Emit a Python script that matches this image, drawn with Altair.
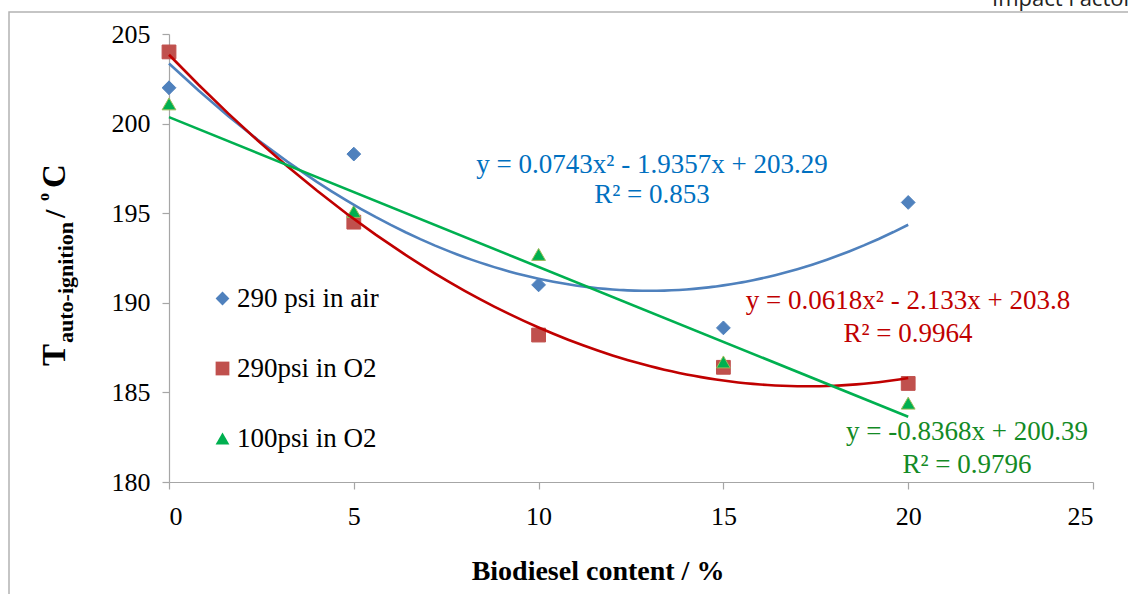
import altair as alt
import pandas as pd

# ---- data ----
content = [0, 5, 10, 15, 20]
air_290 = [202.0, 198.3, 191.0, 188.6, 195.6]
o2_290 = [204.0, 194.5, 188.2, 186.4, 185.5]
o2_100 = [201.1, 195.1, 192.7, 186.7, 184.4]
series_names = ["290 psi in air", "290psi in O2", "100psi in O2"]
x_ticks = [0, 5, 10, 15, 20, 25]
y_ticks = [180, 185, 190, 195, 200, 205]

eq_air = ["y = 0.0743x² - 1.9357x + 203.29", "R² = 0.853"]
eq_o2_290 = ["y = 0.0618x² - 2.133x + 203.8", "R² = 0.9964"]
eq_o2_100 = ["y = -0.8368x + 200.39", "R² = 0.9796"]

rows = []
for name, vals in zip(series_names, [air_290, o2_290, o2_100]):
    for xv, yv in zip(content, vals):
        rows.append({"x": xv, "y": yv, "series": name})
df = pd.DataFrame(rows)

SERIF = "Liberation Serif"
xs = alt.Scale(domain=[0, 25], nice=False)
ys = alt.Scale(domain=[180, 205], nice=False, zero=False)

X = alt.X("x:Q", scale=xs, axis=alt.Axis(values=x_ticks, title=None,
                                         labelFont=SERIF, labelFontSize=26))
Y = alt.Y("y:Q", scale=ys, axis=alt.Axis(values=y_ticks, title=None,
                                         labelFont=SERIF, labelFontSize=26))

base = alt.Chart(df)

leg = alt.Legend(
    orient="none", legendX=40, legendY=251, title=None,
    labelFont=SERIF, labelFontSize=27, labelColor="black",
    symbolSize=190, rowPadding=42, labelOffset=1, padding=0,
    symbolStrokeWidth=0,
)

points = base.mark_point(filled=True, opacity=1, size=190, strokeWidth=1).encode(
    x=X,
    y=Y,
    color=alt.Color(
        "series:N",
        scale=alt.Scale(domain=series_names, range=["#4F81BD", "#C0504D", "#00B050"]),
        legend=leg,
    ),
    shape=alt.Shape(
        "series:N",
        scale=alt.Scale(domain=series_names, range=["diamond", "square", "triangle-up"]),
        legend=leg,
    ),
    stroke=alt.Stroke(
        "series:N",
        scale=alt.Scale(domain=series_names, range=["#4F81BD", "#C0504D", "#9BBB59"]),
        legend=None,
    ),
    order=alt.Order("idx:Q"),
).transform_window(idx="row_number()")


def trend(name, color, method, order=None):
    kw = dict(method=method, extent=[0, 20])
    if order is not None:
        kw["order"] = order
    return (
        base.transform_filter(alt.datum.series == name)
        .transform_regression("x", "y", **kw)
        .mark_line(color=color, strokeWidth=2.6)
        .encode(x=X, y=Y)
    )


line_air = trend(series_names[0], "#4F81BD", "poly", 2)
line_290 = trend(series_names[1], "#C00000", "poly", 2)
line_100 = trend(series_names[2], "#00B050", "linear")


def label(text, px, py, color="black", size=27, weight="normal", align="center",
          angle=None, font=SERIF, baseline="alphabetic"):
    kw = dict(font=font, fontSize=size, fontWeight=weight, color=color,
              align=align, baseline=baseline)
    if angle is not None:
        kw["angle"] = angle
    return alt.Chart(pd.DataFrame({"t": [text]})).mark_text(**kw).encode(
        text="t:N", x=alt.value(px), y=alt.value(py)
    )


texts = [
    label(eq_air[0], 483, 139, "#0070C0"),
    label(eq_air[1], 483, 169, "#0070C0"),
    label(eq_o2_290[0], 739, 275, "#C00000"),
    label(eq_o2_290[1], 739, 308, "#C00000"),
    label(eq_o2_100[0], 798, 406, "#138A25"),
    label(eq_o2_100[1], 798, 439, "#138A25"),
    # x title
    label("Biodiesel content / %", 429, 546, size=28, weight="bold"),
    # y title pieces (rotated)
    label("T", -104, 332, size=33, weight="bold", align="left", angle=270),
    label("auto-ignition", -96, 309, size=22, weight="bold", align="left", angle=270),
    label("/", -104, 184, size=30, weight="bold", align="left", angle=270),
    label("o", -120, 167, size=16, weight="bold", align="left", angle=270),
    label("C", -104, 154, size=33, weight="bold", align="left", angle=270),
    # cut-off page text at the top right
    label("Impact Factor", 823, -28, color="#222222", size=22, align="left",
          font="Open Sans"),
]

border = alt.Chart(pd.DataFrame({"a": [0]})).mark_rect(
    fill=None, stroke="#B3B3B3", strokeWidth=1.5
).encode(
    x=alt.value(-160), x2=alt.value(970), y=alt.value(-22), y2=alt.value(570)
)

chart = alt.layer(border, points, line_air, line_290, line_100, *texts).properties(
    width=924,
    height=448,
    padding={"left": 169, "top": 34, "right": 35, "bottom": 112},
    autosize=alt.AutoSizeParams(type="none"),
    background="white",
).configure_view(stroke=None).configure_axis(
    labelFont=SERIF, labelFontSize=26, labelColor="black",
    domainColor="#A6A6A6", tickColor="#A6A6A6", tickSize=7,
    domainWidth=1.2, tickWidth=1.2, grid=False,
).configure_axisY(labelPadding=12, labelFont=SERIF).configure_axisX(
    labelPadding=14, labelFont=SERIF
)

chart.save("out.html", embed_options={"renderer": "svg", "actions": False})
